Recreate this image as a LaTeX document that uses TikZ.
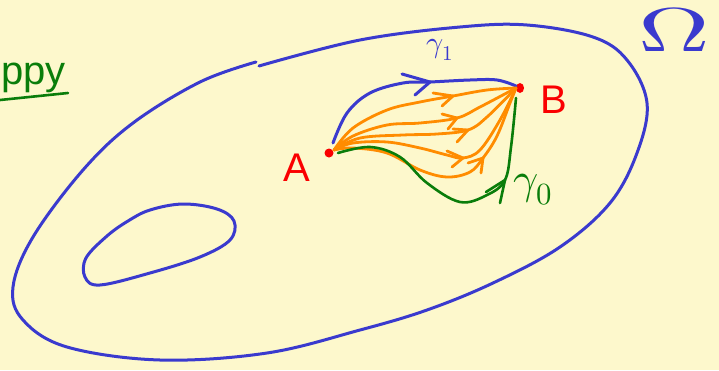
\documentclass[tikz,border=0pt]{standalone}
\usepackage{fontspec}
\usepackage{unicode-math}
\setmathfont{Latin Modern Math}
\usepackage{graphicx}
\usetikzlibrary{shapes.geometric}
\newfontfamily\handfont{Liberation Sans}
\definecolor{bgyel}{RGB}{253,248,204}
\definecolor{penblue}{RGB}{58,58,206}
\definecolor{penorange}{RGB}{255,140,0}
\definecolor{pengreen}{RGB}{10,125,10}
\definecolor{penred}{RGB}{250,0,0}
\tikzset{
  pen/.style={line width=3pt, line cap=round, line join=round},
  bluepen/.style={pen, draw=penblue},
  orangepen/.style={pen, draw=penorange, line width=2.8pt},
  greenpen/.style={pen, draw=pengreen, line width=2.6pt},
  dot/.style={circle, fill=penred, inner sep=0pt, minimum size=9pt},
  lbl/.style={inner sep=0pt},
}
\begin{document}
\begin{tikzpicture}[x=1pt, y=-1pt]
\useasboundingbox (0,0) rectangle (719,370);
\fill[bgyel] (0,0) rectangle (719,370);

% outer region Omega
\draw[bluepen, smooth, tension=0.6] plot coordinates {
 (259,66) (360,40) (460,27) (527,25) (593,37) (627,60) (647,103) (637,153)
 (610,203) (560,247) (493,283) (427,310) (360,330) (267,353) (160,360)
 (67,347) (23,320) (13,287) (33,237) (83,170) (133,123) (200,82) (256,62)};
% hole
\draw[bluepen, smooth cycle, tension=0.6] plot coordinates {
 (150,210) (183,204) (217,209) (234,221) (230,240) (200,257) (150,273)
 (100,285) (85,277) (86,258) (107,236) (128,221)};

% points
\node[dot] (A) at (329,153) {};
\node[dot, ellipse, minimum width=8pt, minimum height=10pt] (B) at (520,88) {};
\coordinate (As) at (334,150);
\coordinate (Be) at (516,88);

% gamma_1
\draw[bluepen] plot[smooth, tension=0.6] coordinates {
 (333,143) (347,113) (370,93) (403,83) (430,82) (470,80) (497,80) (516,86)};
\draw[bluepen] (402,74) -- (430,82) -- (415,95);

% orange homotopy curves
\draw[orangepen] plot[smooth, tension=0.6] coordinates {
 (As) (353,128) (387,110) (420,102) (453,96) (487,90) (Be)};
\draw[orangepen] (433,93) -- (453,96) -- (442,106);

\draw[orangepen] plot[smooth, tension=0.6] coordinates {
 (As) (353,136) (387,125) (420,123) (457,118) (480,107) (Be)};
\draw[orangepen] (442,114) -- (457,118) -- (448,129);

\draw[orangepen] plot[smooth, tension=0.6] coordinates {
 (As) (360,138) (403,135) (437,134) (468,130) (487,117) (Be)};
\draw[orangepen] (453,129) -- (468,130) -- (457,142);

\draw[orangepen] plot[smooth, tension=0.6] coordinates {
 (As) (353,143) (387,142) (420,148) (447,155) (463,158) (480,150) (500,120) (Be)};
\draw[orangepen] (447,151) -- (463,158) -- (452,167);

\draw[orangepen] plot[smooth, tension=0.6] coordinates {
 (As) (353,148) (387,153) (420,170) (447,177) (470,172) (483,158) (497,136) (510,103) (Be)};
\draw[orangepen] (468,163) -- (483,158) -- (481,173);

% gamma_0
\draw[greenpen] plot[smooth, tension=0.6] coordinates {
 (338,153) (370,147) (400,157) (427,183) (460,202) (487,195) (505,180)
 (511,147) (516,98)};
\draw[greenpen] (486,192) -- (505,180) -- (500,203);

% labels
\node[lbl, text=penred, font=\handfont\fontsize{40}{44}\selectfont] (LA) at (297,168) {A};
\node[lbl, text=penred, font=\handfont\fontsize{40}{44}\selectfont] (LB) at (554,100) {B};
\node[lbl, text=penblue, font=\fontsize{30}{34}\selectfont] (Lg1) at (440,50) {$\gamma_1$};
\node[lbl, text=pengreen, font=\fontsize{44}{50}\selectfont] (Lg0) at (533,190) {$\gamma_0$};
\node[lbl, text=penblue, anchor=base west, font=\fontsize{62}{66}\selectfont] (Om) at (638,51) {\scalebox{1.6}[1]{$\Omega$}};

% green text at top left
\node[lbl, text=pengreen, anchor=base east, font=\handfont\fontsize{40}{46}\selectfont] (ppy) at (66,84) {ppy};
\draw[greenpen] (0,100) -- (68,93);
\end{tikzpicture}
\end{document}
